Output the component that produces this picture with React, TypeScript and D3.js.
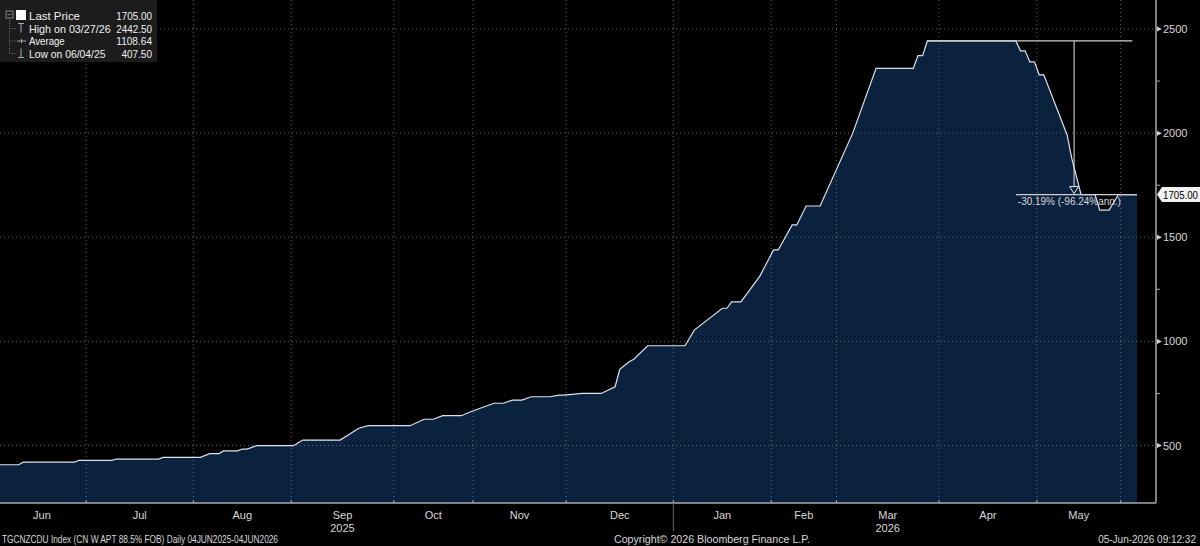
import React from 'react'
import * as d3 from 'd3'

// trading calendar (weekdays minus exchange holidays)
const startDate = '2025-06-04'
const endDate = '2026-06-04'
const holidays = [
  '2025-10-01', '2025-10-02', '2025-10-03', '2025-10-06', '2025-10-07', '2025-10-08',
  '2026-01-01',
  '2026-02-16', '2026-02-17', '2026-02-18', '2026-02-19', '2026-02-20', '2026-02-23',
  '2026-04-06',
  '2026-05-01', '2026-05-04', '2026-05-05',
]

// price series, points where the index changes
const priceDates = [
  '2025-06-04', '2025-06-10', '2025-06-11', '2025-06-26', '2025-06-27', '2025-07-08', '2025-07-09',
  '2025-07-22', '2025-07-23', '2025-08-04', '2025-08-06', '2025-08-08', '2025-08-11', '2025-08-14',
  '2025-08-15', '2025-08-18', '2025-08-20', '2025-09-01', '2025-09-02', '2025-09-03', '2025-09-15',
  '2025-09-19', '2025-09-23', '2025-10-14', '2025-10-17', '2025-10-21', '2025-10-23', '2025-10-29',
  '2025-10-31', '2025-11-07', '2025-11-11', '2025-11-13', '2025-11-17', '2025-11-19', '2025-11-25',
  '2025-11-27', '2025-11-28', '2025-12-04', '2025-12-10', '2025-12-15', '2025-12-16', '2025-12-18',
  '2025-12-19', '2025-12-24', '2026-01-06', '2026-01-08', '2026-01-16', '2026-01-19', '2026-01-20',
  '2026-01-22', '2026-01-28', '2026-02-02', '2026-02-03', '2026-02-06', '2026-02-09', '2026-02-11',
  '2026-02-24', '2026-03-05', '2026-03-12', '2026-03-24', '2026-03-25', '2026-03-26', '2026-03-27',
  '2026-04-24', '2026-04-27', '2026-04-28', '2026-04-29', '2026-04-30', '2026-05-06', '2026-05-07',
  '2026-05-14', '2026-05-15', '2026-05-19', '2026-05-22', '2026-05-25', '2026-05-27', '2026-05-29',
  '2026-06-04',
]
const priceValues = [
  407.5, 407.5, 420, 420, 429, 429, 435,
  435, 443, 443, 461, 461, 474, 474,
  483, 483, 499, 499, 513, 526, 526,
  583, 595, 595, 626, 626, 643, 643,
  662, 703, 703, 718, 718, 734, 734,
  742, 742, 750, 750, 782, 866, 902,
  914, 979, 979, 1054, 1159, 1159, 1190,
  1190, 1311, 1439, 1439, 1559, 1559, 1650,
  1650, 2000, 2311, 2311, 2372, 2372, 2442.5,
  2442.5, 2395, 2395, 2342, 2342, 2280, 2280,
  1991, 1879, 1705, 1705, 1630, 1630, 1705,
  1705,
]

const legendLabels = ['Last Price', 'High on 03/27/26', 'Average', 'Low on 06/04/25']
const legendValues = ['1705.00', '2442.50', '1108.64', '407.50']

const yTicks = [500, 1000, 1500, 2000, 2500]
const yMinorTicks = [750, 1250, 1750, 2250]

const lastPrice = 1705
const highPrice = 2442.5
const changeLabel = '-30.19% (-96.24%ann.)'

const W = 1200
const H = 546
const plotRight = 1156
const plotBottom = 503
const font = '"Liberation Sans", Arial, sans-serif'

const fmt = d3.timeFormat('%Y-%m-%d')
const parse = d3.timeParse('%Y-%m-%d')

// width of a string in the narrow terminal font (~5.1px per char at 11px)
const narrow = (s: string, k = 5.1) => s.length * k

export default function App() {
  const days = d3.timeDay
    .range(parse(startDate)!, d3.timeDay.offset(parse(endDate)!, 1))
    .filter(d => d.getDay() !== 0 && d.getDay() !== 6 && !holidays.includes(fmt(d)))
  const idx = new Map(days.map((d, i) => [fmt(d), i]))

  const x = d3.scaleLinear().domain([0, days.length - 1]).range([0, 1137])
  const y = d3.scaleLinear().domain([500, 2500]).range([445.5, 29])

  const pts: [number, number][] = priceDates.map((d, i) => [idx.get(d)!, priceValues[i]])

  const area = d3.area<[number, number]>().x(p => x(p[0])).y0(plotBottom).y1(p => y(p[1]))
  const line = d3.line<[number, number]>().x(p => x(p[0])).y(p => y(p[1]))

  // months: first / last trading day index
  const months = d3.groups(days.map((d, i) => ({ d, i })), o => +d3.timeMonth(o.d)).map(([k, arr]) => ({
    date: new Date(k),
    first: arr[0].i,
    last: arr[arr.length - 1].i,
  }))
  const labelled = months.filter(m => m.last - m.first >= 5)
  const years = d3.groups(labelled, m => m.date.getFullYear()).map(([yr, arr]) => ({
    yr,
    at: arr[Math.floor((arr.length - 1) / 2)],
  }))

  const gridColor = '#7a7a7a'
  const textColor = '#d8d8d8'

  const arrowX = x(230.5)
  const yHigh = y(highPrice)
  const yLast = y(lastPrice)

  return (
    <>
      <style>{`body{margin:0;background:#000}`}</style>
      <svg width={W} height={H} style={{ position: 'absolute', left: 0, top: 0, background: '#000', fontFamily: font }}>
        <rect width={W} height={H} fill="#000" />

        {/* area */}
        <path d={area(pts)!} fill="#0b223f" />

        {/* grid */}
        {yTicks.map(t => (
          <line key={'gy' + t} x1={0} x2={plotRight} y1={y(t)} y2={y(t)} stroke={gridColor} strokeWidth={1} strokeDasharray="1,3" opacity={0.8} />
        ))}
        {months.slice(1).map(m => (
          <line key={'gx' + m.first} x1={x(m.first - 0.5)} x2={x(m.first - 0.5)} y1={0} y2={plotBottom} stroke={gridColor} strokeWidth={1} strokeDasharray="1,3" opacity={0.8} />
        ))}

        <path d={line(pts)!} fill="none" stroke="#dde3ea" strokeWidth={1.2} />

        {/* change annotation */}
        <line x1={x(idx.get('2026-03-27')!)} x2={x(243)} y1={yHigh} y2={yHigh} stroke="#cfcfcf" strokeWidth={1.2} />
        <line x1={x(218)} x2={x(244)} y1={yLast} y2={yLast} stroke="#cfcfcf" strokeWidth={1.2} />
        <line x1={arrowX} x2={arrowX} y1={yHigh} y2={yLast - 8} stroke="#e6e6e6" strokeWidth={1} />
        <path d={`M${arrowX - 4.5},${yLast - 8}L${arrowX + 4.5},${yLast - 8}L${arrowX},${yLast - 1}Z`} fill="#0b223f" stroke="#e6e6e6" strokeWidth={1} />
        <text x={x(218) + 2} y={yLast + 10} fontSize={11} fill={textColor} textLength={103} lengthAdjust="spacingAndGlyphs">{changeLabel}</text>

        {/* axes */}
        <line x1={0} x2={plotRight} y1={plotBottom} y2={plotBottom} stroke="#a8a8a8" strokeWidth={1.5} />
        <line x1={plotRight} x2={plotRight} y1={0} y2={plotBottom} stroke="#a8a8a8" strokeWidth={1.5} />
        {months.slice(1).map(m => (
          <line key={'tx' + m.first} x1={x(m.first - 0.5)} x2={x(m.first - 0.5)} y1={plotBottom - 3} y2={plotBottom}
            stroke="#a8a8a8" strokeWidth={1} />
        ))}
        {months.slice(1).filter(m => m.date.getMonth() === 0).map(m => (
          <line key={'yr' + m.first} x1={x(m.first - 0.5)} x2={x(m.first - 0.5)} y1={plotBottom} y2={531} stroke="#6a6a6a" strokeWidth={1} />
        ))}
        {labelled.map(m => (
          <text key={'ml' + m.first} x={x((m.first + m.last) / 2)} y={519} fontSize={11} fill={textColor} textAnchor="middle">
            {d3.timeFormat('%b')(m.date)}
          </text>
        ))}
        {years.map(o => (
          <text key={'yl' + o.yr} x={x((o.at.first + o.at.last) / 2)} y={532} fontSize={11} fill={textColor} textAnchor="middle">
            {o.yr}
          </text>
        ))}

        {yTicks.map(t => (
          <g key={'yt' + t}>
            <path d={`M${plotRight + 1},${y(t) - 2.5}L${plotRight + 6},${y(t)}L${plotRight + 1},${y(t) + 2.5}Z`} fill="#cfcfcf" />
            <text x={plotRight + 7} y={y(t) + 4} fontSize={11} fill={textColor}>{t}</text>
          </g>
        ))}
        {yMinorTicks.map(t => (
          <line key={'ym' + t} x1={plotRight} x2={plotRight + 4} y1={y(t)} y2={y(t)} stroke="#a8a8a8" strokeWidth={1} />
        ))}

        {/* last price tag */}
        <path d={`M${plotRight + 1},${yLast}L${plotRight + 6},${yLast - 7.5}L${W},${yLast - 7.5}L${W},${yLast + 7.5}L${plotRight + 6},${yLast + 7.5}Z`} fill="#f2f2f2" />
        <text x={plotRight + 7} y={yLast + 4} fontSize={11} fill="#000" textLength={35} lengthAdjust="spacingAndGlyphs">{lastPrice.toFixed(2)}</text>

        {/* legend */}
        <rect x={0} y={0} width={157} height={62} fill="#1c1c1c" />
        <rect x={6} y={11} width={7} height={7} fill="none" stroke="#9a9a9a" strokeWidth={0.8} />
        <line x1={7.5} x2={11.5} y1={14.5} y2={14.5} stroke="#9a9a9a" strokeWidth={0.8} />
        <line x1={9.5} x2={9.5} y1={18} y2={53} stroke="#8a8a8a" strokeWidth={0.8} strokeDasharray="1,1.5" />
        <rect x={16} y={10} width={10} height={10} fill="#ffffff" />
        {legendLabels.map((l, i) => {
          const by = 20 + i * 12.5
          return (
            <g key={l}>
              {i > 0 && <line x1={9.5} x2={17} y1={by - 4} y2={by - 4} stroke="#8a8a8a" strokeWidth={0.8} strokeDasharray="1,1.5" />}
              {i === 1 && <path d={`M18,${by - 9}H24M21,${by - 9}V${by}`} stroke="#bbb" strokeWidth={0.9} fill="none" />}
              {i === 2 && <path d={`M17,${by - 4}H26M21.5,${by - 6}V${by - 2}`} stroke="#bbb" strokeWidth={0.9} fill="none" />}
              {i === 3 && <path d={`M21,${by - 9}V${by}M18,${by}H24`} stroke="#bbb" strokeWidth={0.9} fill="none" />}
              <text x={29} y={by} fontSize={11} fill="#f0f0f0" textLength={narrow(l)} lengthAdjust="spacingAndGlyphs">{l}</text>
              <text x={152} y={by} fontSize={11} fill="#f0f0f0" textAnchor="end" textLength={narrow(legendValues[i])} lengthAdjust="spacingAndGlyphs">{legendValues[i]}</text>
            </g>
          )
        })}

        {/* footer */}
        <text x={2} y={543} fontSize={10} fill={textColor} textLength={276} lengthAdjust="spacingAndGlyphs">
          TGCNZCDU Index (CN W APT 88.5% FOB) Daily 04JUN2025-04JUN2026
        </text>
        <text x={614} y={543} fontSize={10} fill={textColor} textLength={196} lengthAdjust="spacingAndGlyphs">
          Copyright© 2026 Bloomberg Finance L.P.
        </text>
        <text x={1196} y={543} fontSize={10} fill={textColor} textAnchor="end">
          05-Jun-2026 09:12:32
        </text>
      </svg>
    </>
  )
}
